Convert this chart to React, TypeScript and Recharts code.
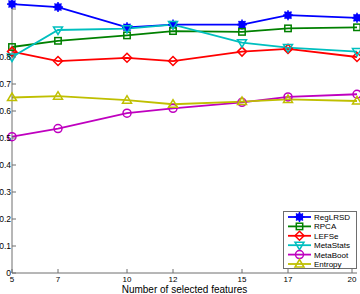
import React from 'react';
import { LineChart, Line, XAxis, YAxis } from 'recharts';

const xValues = [5, 7, 10, 12, 15, 17, 20];
const yTicks = [0, 0.1, 0.2, 0.3, 0.4, 0.5, 0.6, 0.7, 0.8, 0.9, 1];
const regLRSD = [0.996, 0.985, 0.91, 0.92, 0.92, 0.955, 0.945];
const rpca = [0.837, 0.86, 0.88, 0.896, 0.893, 0.906, 0.91];
const lefse = [0.82, 0.785, 0.797, 0.785, 0.82, 0.83, 0.8];
const metaStats = [0.8, 0.9, 0.905, 0.92, 0.853, 0.835, 0.82];
const metaBoot = [0.505, 0.535, 0.592, 0.61, 0.632, 0.652, 0.662];
const entropy = [0.65, 0.655, 0.64, 0.625, 0.635, 0.643, 0.637];

const seriesNames = ['RegLRSD', 'RPCA', 'LEFSe', 'MetaStats', 'MetaBoot', 'Entropy'];
const seriesValues = [regLRSD, rpca, lefse, metaStats, metaBoot, entropy];
const seriesColors = ['#0000ff', '#008000', '#ff0000', '#00bfbf', '#bf00bf', '#bfbf00'];
const seriesMarkers = ['star', 'square', 'diamond', 'triDown', 'circle', 'triUp'];

const data = xValues.map((x, i) => {
  const row: any = { x };
  seriesNames.forEach((n, j) => (row[n] = seriesValues[j][i]));
  return row;
});

const AXIS = '#6e6e6e';
const FONT = 'Liberation Sans, Arial, sans-serif';

function Marker({ type, cx, cy, color }: any) {
  const sw = 1.5;
  switch (type) {
    case 'star':
      return (
        <g stroke={color} strokeWidth={1.5}>
          <circle cx={cx} cy={cy} r={3} fill={color} />
          <line x1={cx - 5} x2={cx + 5} y1={cy} y2={cy} />
          <line x1={cx} x2={cx} y1={cy - 5} y2={cy + 5} />
          <line x1={cx - 3.5} x2={cx + 3.5} y1={cy - 3.5} y2={cy + 3.5} />
          <line x1={cx - 3.5} x2={cx + 3.5} y1={cy + 3.5} y2={cy - 3.5} />
        </g>
      );
    case 'square':
      return <rect x={cx - 3.2} y={cy - 3.2} width={6.4} height={6.4} fill="none" stroke={color} strokeWidth={sw} />;
    case 'diamond':
      return (
        <polygon
          points={`${cx},${cy - 4.5} ${cx + 4.5},${cy} ${cx},${cy + 4.5} ${cx - 4.5},${cy}`}
          fill="none"
          stroke={color}
          strokeWidth={sw}
        />
      );
    case 'triDown':
      return (
        <polygon
          points={`${cx - 4.5},${cy - 3} ${cx + 4.5},${cy - 3} ${cx},${cy + 4.5}`}
          fill="none"
          stroke={color}
          strokeWidth={sw}
        />
      );
    case 'triUp':
      return (
        <polygon
          points={`${cx - 4.5},${cy + 3} ${cx + 4.5},${cy + 3} ${cx},${cy - 4.5}`}
          fill="none"
          stroke={color}
          strokeWidth={sw}
        />
      );
    default:
      return <circle cx={cx} cy={cy} r={4} fill="none" stroke={color} strokeWidth={sw} />;
  }
}

const BottomTick = (props: any) => {
  const { x, y, payload } = props;
  return (
    <g>
      <line x1={x} x2={x} y1={y} y2={y - 4} stroke={AXIS} />
      <text x={x} y={y + 9} textAnchor="middle" fontSize={8} fontFamily={FONT} fill="#000">
        {payload.value}
      </text>
    </g>
  );
};

const TopTick = (props: any) => {
  const { x, y } = props;
  return <line x1={x} x2={x} y1={y} y2={y + 4} stroke={AXIS} />;
};

const LeftTick = (props: any) => {
  const { x, y, payload } = props;
  const v = payload.value;
  return (
    <g>
      <line x1={x} x2={x + 4} y1={y} y2={y} stroke={AXIS} />
      {v < 1 && (
        <text x={x - 1} y={y + 3} textAnchor="end" fontSize={8.5} fontFamily={FONT} fill="#000">
          {v === 0 ? '0' : v.toFixed(1)}
        </text>
      )}
    </g>
  );
};

const RightTick = (props: any) => {
  const { x, y } = props;
  return <line x1={x} x2={x - 4} y1={y} y2={y} stroke={AXIS} />;
};

export default function App() {
  return (
    <div style={{ position: 'absolute', left: 0, top: 0, width: 360, height: 294, background: '#fff' }}>
      <LineChart width={360} height={294} data={data} margin={{ top: 3, right: 3, left: 0, bottom: 0 }}>
        <XAxis
          xAxisId="b"
          dataKey="x"
          type="number"
          domain={[5, 20]}
          ticks={xValues}
          tick={<BottomTick />}
          tickLine={false}
          tickSize={0}
          tickMargin={0}
          height={21}
          stroke={AXIS}
          label={{ value: 'Number of selected features', position: 'insideBottom', offset: 1, fontSize: 10, fontFamily: FONT, fill: '#000' }}
        />
        <XAxis
          xAxisId="t"
          orientation="top"
          dataKey="x"
          type="number"
          domain={[5, 20]}
          ticks={xValues}
          tick={<TopTick />}
          tickLine={false}
          tickSize={0}
          tickMargin={0}
          height={0}
          stroke={AXIS}
        />
        <YAxis
          yAxisId="l"
          type="number"
          domain={[0, 1]}
          ticks={yTicks}
          tick={<LeftTick />}
          tickLine={false}
          tickSize={0}
          tickMargin={0}
          width={12}
          stroke={AXIS}
        />
        <YAxis
          yAxisId="r"
          orientation="right"
          type="number"
          domain={[0, 1]}
          ticks={yTicks}
          tick={<RightTick />}
          tickLine={false}
          tickSize={0}
          tickMargin={0}
          width={0}
          stroke={AXIS}
        />
        {seriesNames.map((n, j) => (
          <Line
            key={n}
            xAxisId="b"
            yAxisId="l"
            dataKey={n}
            stroke={seriesColors[j]}
            strokeWidth={1.8}
            isAnimationActive={false}
            dot={(p: any) => (
              <Marker key={`${n}-${p.index}`} type={seriesMarkers[j]} cx={p.cx} cy={p.cy} color={seriesColors[j]} />
            )}
            activeDot={false}
          />
        ))}
      </LineChart>
      <div style={{ position: 'absolute', left: 283, top: 211, width: 74, height: 58 }}>
        <svg width={74} height={58}>
          <rect x={0.5} y={0.5} width={73} height={57} fill="#fff" stroke={AXIS} />
          {seriesNames.map((n, j) => {
            const cy = 6 + j * 9.4;
            return (
              <g key={n}>
                <line x1={5} x2={28} y1={cy} y2={cy} stroke={seriesColors[j]} strokeWidth={1.8} />
                <Marker type={seriesMarkers[j]} cx={16.5} cy={cy} color={seriesColors[j]} />
                <text x={31} y={cy + 3} fontSize={8} fontFamily={FONT} fill="#000">
                  {n}
                </text>
              </g>
            );
          })}
        </svg>
      </div>
    </div>
  );
}
